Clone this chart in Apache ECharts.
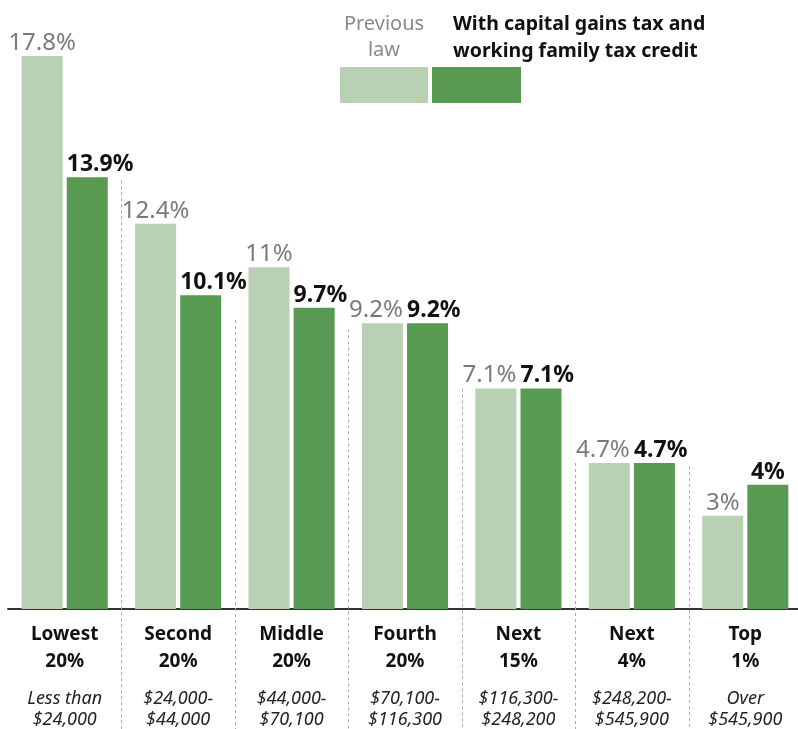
<!DOCTYPE html>
<html>
<head>
<meta charset="utf-8">
<script src="https://cdn.jsdelivr.net/npm/echarts@6/dist/echarts.min.js"></script>
<style>
html,body{margin:0;padding:0;background:#fff;}
#chart{width:798px;height:729px;}
</style>
</head>
<body>
<div id="chart"></div>
<script>
const groupNames = ['Lowest', 'Second', 'Middle', 'Fourth', 'Next', 'Next', 'Top'];
const groupShares = ['20%', '20%', '20%', '20%', '15%', '4%', '1%'];
const rangeLine1 = ['Less than', '$24,000-', '$44,000-', '$70,100-', '$116,300-', '$248,200-', 'Over'];
const rangeLine2 = ['$24,000', '$44,000', '$70,100', '$116,300', '$248,200', '$545,900', '$545,900'];
const previousLaw = [17.8, 12.4, 11, 9.2, 7.1, 4.7, 3];
const withNewTax = [13.9, 10.1, 9.7, 9.2, 7.1, 4.7, 4];
const separatorTops = [13.8, 9.3, 9.0, 7.1, 4.7, 4.6];
const seriesNames = ['Previous law', 'With capital gains tax and working family tax credit'];

// label anchoring style per group (c = centred over bar, r = right edge of bar, l = left edge of bar)
const lightLabelAnchor = ['c', 'c', 'c', 'r', 'r', 'r', 'c'];
const darkLabelAnchor = ['l', 'l', 'l', 'l', 'l', 'l', 'c'];

const FONT = '"Noto Sans", sans-serif';
const LIGHT = '#b9d1b3';
const DARK = '#589a52';

const categories = groupNames.map((n, i) => n + ' ' + groupShares[i]);

function labelFor(anchor) {
  if (anchor === 'r') return { position: ['100%', -1], align: 'right', verticalAlign: 'bottom' };
  if (anchor === 'l') return { position: [0, -1], align: 'left', verticalAlign: 'bottom' };
  return { position: 'top', distance: 1 };
}

const chart = echarts.init(document.getElementById('chart'));
chart.setOption({
  animation: false,
  backgroundColor: '#fff',
  textStyle: { fontFamily: FONT },
  grid: { left: 8, width: 794, top: 56, bottom: 120, containLabel: false, outerBoundsMode: 'none' },
  xAxis: {
    type: 'category',
    data: categories,
    axisTick: { show: false },
    axisLine: { show: true, lineStyle: { color: '#333', width: 2 } },
    axisLabel: {
      interval: 0,
      margin: 12,
      formatter: function (v, i) {
        return '{b|' + groupNames[i] + '}\n{b|' + groupShares[i] + '}\n{sp| }\n{i|' + rangeLine1[i] + '}\n{i|' + rangeLine2[i] + '}';
      },
      rich: {
        b: { fontFamily: FONT, fontSize: 19, fontWeight: 'bold', color: '#111', lineHeight: 27 },
        sp: { fontSize: 6, lineHeight: 13 },
        i: { fontFamily: FONT, fontSize: 18, fontStyle: 'italic', color: '#222', lineHeight: 21 }
      }
    }
  },
  yAxis: { type: 'value', min: 0, max: 17.8, show: false, splitLine: { show: false } },
  series: [
    {
      name: seriesNames[0],
      type: 'bar',
      data: previousLaw.map((v, i) => ({ value: v, label: labelFor(lightLabelAnchor[i]) })),
      barWidth: 41,
      barGap: '10%',
      itemStyle: { color: LIGHT },
      label: {
        show: true, position: 'top', distance: 1,
        formatter: '{c}%', fontFamily: FONT, fontSize: 24, color: '#7a7a7a'
      }
    },
    {
      name: seriesNames[1],
      type: 'bar',
      data: withNewTax.map((v, i) => ({ value: v, label: labelFor(darkLabelAnchor[i]) })),
      barWidth: 41,
      barGap: '10%',
      itemStyle: { color: DARK },
      label: {
        show: true, position: 'top', distance: 1,
        formatter: '{c}%', fontFamily: FONT, fontSize: 23, fontWeight: 'bold', color: '#111'
      }
    },
    {
      type: 'custom',
      clip: false,
      silent: true,
      z: 1,
      data: separatorTops.map((v, i) => [i, v]),
      renderItem: function (params, api) {
        const p = api.coord([api.value(0), api.value(1)]);
        const w = api.size([1, 0])[0];
        const x = Math.round(p[0] + w / 2) + 0.5;
        return {
          type: 'line',
          shape: { x1: x, y1: p[1], x2: x, y2: 729 },
          style: { stroke: '#ababab', lineWidth: 1, lineDash: [3, 3] }
        };
      }
    }
  ],
  graphic: [
    { type: 'rect', left: 340, top: 67, shape: { width: 88, height: 36 }, style: { fill: LIGHT } },
    { type: 'rect', left: 432, top: 67, shape: { width: 89, height: 36 }, style: { fill: DARK } },
    {
      type: 'text', x: 384, y: 11,
      style: { text: 'Previous\nlaw', fontFamily: FONT, fontSize: 20, lineHeight: 26, fill: '#8a8a8a', align: 'center', verticalAlign: 'top' }
    },
    {
      type: 'text', x: 453, y: 11,
      style: { text: 'With capital gains tax and\nworking family tax credit', fontFamily: FONT, fontSize: 19.5, fontWeight: 'bold', lineHeight: 27, fill: '#111', align: 'left', verticalAlign: 'top' }
    }
  ]
});
</script>
</body>
</html>
